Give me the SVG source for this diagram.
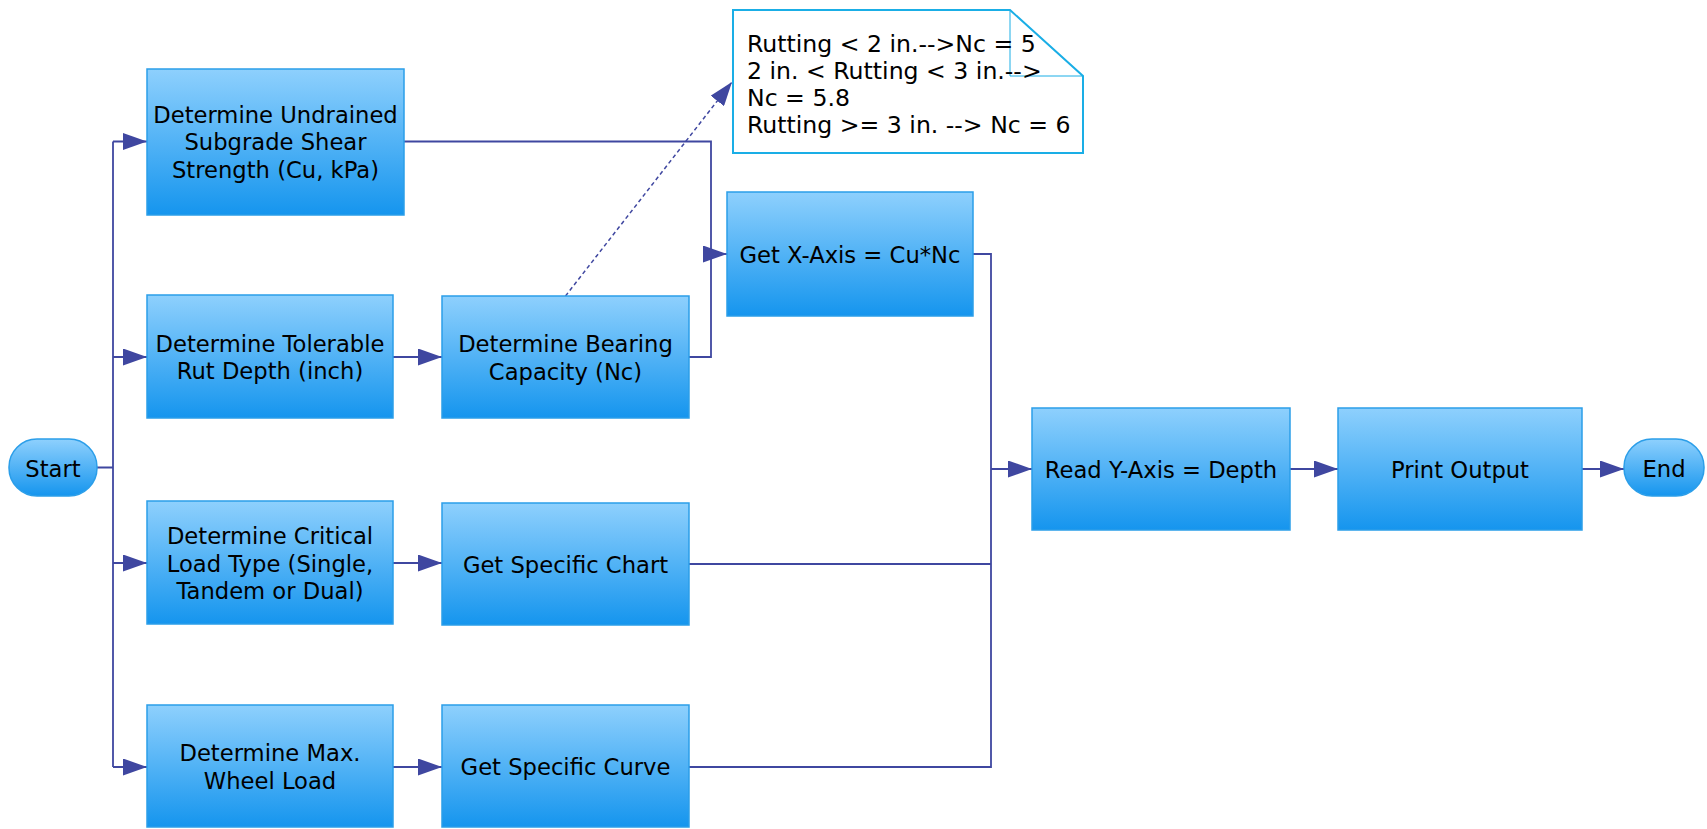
<svg xmlns="http://www.w3.org/2000/svg" width="1707" height="829" viewBox="0 0 1707 829">
<defs>
<linearGradient id="g" x1="0" y1="0" x2="0" y2="1">
<stop offset="0" stop-color="#8ed0fd"/>
<stop offset="1" stop-color="#1595ee"/>
</linearGradient>
<marker id="ah" markerUnits="userSpaceOnUse" markerWidth="24" markerHeight="17" refX="24" refY="8.5" orient="auto">
<path d="M0,0 L24,8.5 L0,17 Z" fill="#3f47a0"/>
</marker>
<style>
.box{fill:url(#g);stroke:#2b9ee9;stroke-width:1.5}
.t{font-family:"DejaVu Sans",Verdana,sans-serif;font-size:22.67px;fill:#000;text-anchor:middle}
.n{font-family:"DejaVu Sans",Verdana,sans-serif;font-size:23.6px;fill:#000}
.c{fill:none;stroke:#3f47a0;stroke-width:1.8}
.d{fill:none;stroke:#3f47a0;stroke-width:1.5;stroke-dasharray:4 3}
</style>
</defs>
<rect width="1707" height="829" fill="#fff"/>
<g id="connectors">
<path class="c" d="M97,467.5 H113 M113,141.5 V767"/>
<path class="c" d="M113,141.5 H147" marker-end="url(#ah)"/>
<path class="c" d="M113,357 H147" marker-end="url(#ah)"/>
<path class="c" d="M113,563 H147" marker-end="url(#ah)"/>
<path class="c" d="M113,767 H147" marker-end="url(#ah)"/>
<path class="c" d="M393,357 H442" marker-end="url(#ah)"/>
<path class="c" d="M393,563 H442" marker-end="url(#ah)"/>
<path class="c" d="M393,767 H442" marker-end="url(#ah)"/>
<path class="c" d="M404,141.5 H711 V357 H689"/>
<path class="c" d="M711,254 H727" marker-end="url(#ah)"/>
<path class="c" d="M973,254 H991 V767 H689 M689,564 H991"/>
<path class="c" d="M991,469 H1032" marker-end="url(#ah)"/>
<path class="c" d="M1290,469 H1338" marker-end="url(#ah)"/>
<path class="c" d="M1582,469 H1624" marker-end="url(#ah)"/>
<path class="d" d="M565.5,296 L732,82" marker-end="url(#ah)"/>
</g>
<g id="start">
<rect class="box" x="9" y="439" width="88" height="57" rx="28"/>
<text class="t" x="53" y="476.5">Start</text>
</g>
<g id="end">
<rect class="box" x="1624" y="439" width="80" height="57" rx="28"/>
<text class="t" x="1664" y="476.5">End</text>
</g>
<g id="undrained">
<rect class="box" x="147" y="69" width="257" height="146"/>
<text class="t" x="275.5" y="122.5">Determine Undrained</text>
<text class="t" x="275.5" y="150.2">Subgrade Shear</text>
<text class="t" x="275.5" y="177.9">Strength (Cu, kPa)</text>
</g>
<g id="rut">
<rect class="box" x="147" y="295" width="246" height="123"/>
<text class="t" x="270" y="351.6">Determine Tolerable</text>
<text class="t" x="270" y="379.3">Rut Depth (inch)</text>
</g>
<g id="load-type">
<rect class="box" x="147" y="501" width="246" height="123"/>
<text class="t" x="270" y="543.8">Determine Critical</text>
<text class="t" x="270" y="571.5">Load Type (Single,</text>
<text class="t" x="270" y="599.2">Tandem or Dual)</text>
</g>
<g id="wheel-load">
<rect class="box" x="147" y="705" width="246" height="122"/>
<text class="t" x="270" y="761.2">Determine Max.</text>
<text class="t" x="270" y="788.9">Wheel Load</text>
</g>
<g id="bearing">
<rect class="box" x="442" y="296" width="247" height="122"/>
<text class="t" x="565.5" y="352.2">Determine Bearing</text>
<text class="t" x="565.5" y="379.9">Capacity (Nc)</text>
</g>
<g id="chart">
<rect class="box" x="442" y="503" width="247" height="122"/>
<text class="t" x="565.5" y="573">Get Specific Chart</text>
</g>
<g id="curve">
<rect class="box" x="442" y="705" width="247" height="122"/>
<text class="t" x="565.5" y="775">Get Specific Curve</text>
</g>
<g id="x-axis">
<rect class="box" x="727" y="192" width="246" height="124"/>
<text class="t" x="850" y="263">Get X-Axis = Cu*Nc</text>
</g>
<g id="y-axis">
<rect class="box" x="1032" y="408" width="258" height="122"/>
<text class="t" x="1161" y="478">Read Y-Axis = Depth</text>
</g>
<g id="print">
<rect class="box" x="1338" y="408" width="244" height="122"/>
<text class="t" x="1460" y="478">Print Output</text>
</g>
<g id="note">
<path d="M733,10 H1010 L1083,76 V153 H733 Z" fill="#fff" stroke="#1aaee6" stroke-width="2"/>
<path d="M1010,10 V76 H1083" fill="none" stroke="#1aaee6" stroke-width="1"/>
<text class="n" x="747" y="52">Rutting &lt; 2 in.--&gt;Nc = 5</text>
<text class="n" x="747" y="79">2 in. &lt; Rutting &lt; 3 in.--&gt;</text>
<text class="n" x="747" y="106">Nc = 5.8</text>
<text class="n" x="747" y="133">Rutting &gt;= 3 in. --&gt; Nc = 6</text>
</g>
</svg>
